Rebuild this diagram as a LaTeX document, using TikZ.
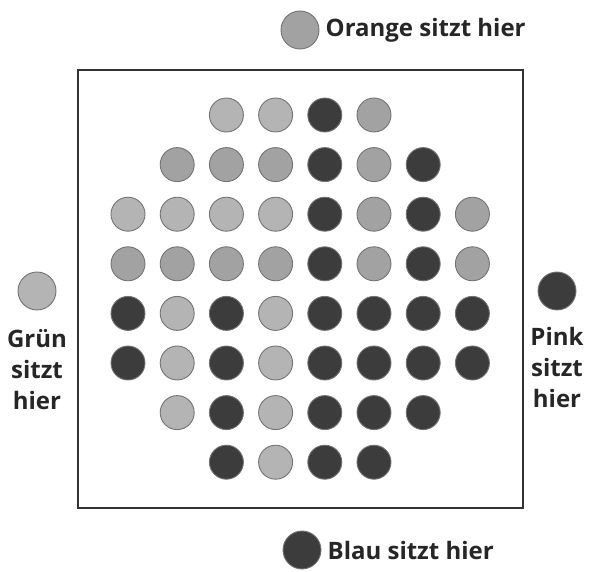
\documentclass[tikz,border=0pt]{standalone}
\usepackage{fontspec}
\setsansfont{Open Sans}
\usetikzlibrary{positioning}
\definecolor{SeatL}{HTML}{B4B4B4}
\definecolor{SeatM}{HTML}{A2A2A2}
\definecolor{SeatD}{HTML}{3C3C3C}
\definecolor{FrameGray}{HTML}{333333}

\begin{document}
\begin{tikzpicture}[
    x=1pt, y=-1pt,
    seat/.style={circle, draw=black!55, line width=0.9pt, minimum size=34pt, inner sep=0pt},
    bigseat/.style={seat, minimum size=38pt},
    tag/.style={font=\sffamily\bfseries\fontsize{24}{31}\selectfont, text=black!85, inner sep=1pt, align=center}
  ]
    \useasboundingbox (0,0) rectangle (598,572);

    % Board frame
    \node[draw=FrameGray, line width=1.4pt, minimum width=445pt, minimum height=438pt, inner sep=0pt] (board) at (300.5,289) {};

    % Seats: row / first column / colours
    \foreach \row/\first/\colors in {1/3/{L,L,D,M}, 2/2/{M,M,M,D,M,D}, 3/1/{L,L,L,L,D,M,D,M},
        4/1/{M,M,M,M,D,M,D,M}, 5/1/{D,L,D,L,D,D,D,D}, 6/1/{D,L,D,L,D,D,D,D},
        7/2/{L,D,L,D,D,D}, 8/3/{D,L,D,D}}
      \foreach \c [count=\col from \first] in \colors
        \node[seat, fill=Seat\c] (s-\row-\col) at ({128+(\col-1)*49.2},{115+(\row-1)*49.6}) {};

    % Player markers
    \node[bigseat, fill=SeatM] (orange) at (300,30) {};
    \node[tag, right=5pt of orange] (orangetxt) {Orange sitzt hier};

    \node[bigseat, fill=SeatD] (blau) at (302,550) {};
    \node[tag, right=5pt of blau] (blautxt) {Blau sitzt hier};

    \node[bigseat, fill=SeatL] (gruen) at (37,291) {};
    \node[tag, below=18pt of gruen] (gruentxt) {Grün\\sitzt\\hier};

    \node[bigseat, fill=SeatD] (pink) at (557,291) {};
    \node[tag, below=16pt of pink] (pinktxt) {Pink\\sitzt\\hier};

  \end{tikzpicture}
\end{document}
